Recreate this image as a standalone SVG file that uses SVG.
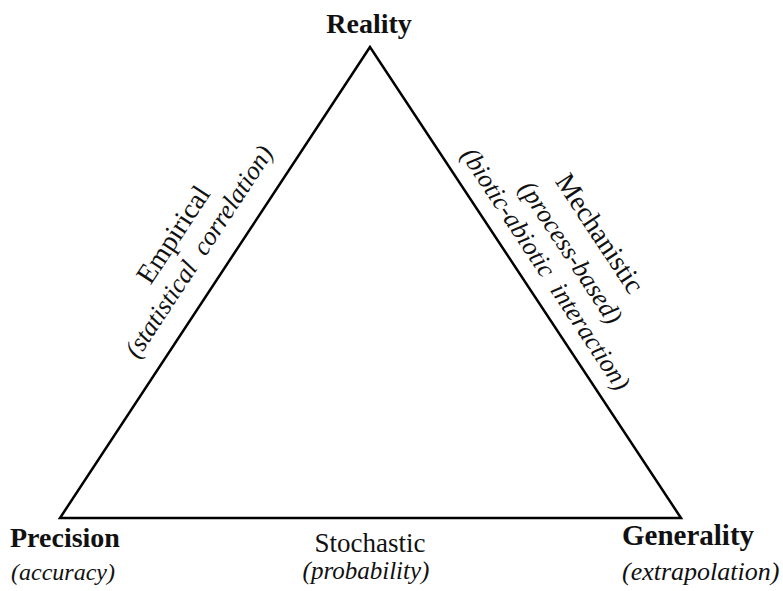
<svg xmlns="http://www.w3.org/2000/svg" width="783" height="591" viewBox="0 0 783 591">
<style>
.edge{fill:none;stroke:#000;stroke-width:2.5;stroke-linejoin:miter;stroke-miterlimit:20}
.b{font-family:"Liberation Serif",serif;font-weight:bold;fill:#111}
.r{font-family:"Liberation Serif",serif;fill:#111}
.i{font-family:"Liberation Serif",serif;font-style:italic;fill:#111}
</style>
<rect width="783" height="591" fill="#fff"/>
<g id="connectors">
<polygon class="edge" points="370,47 60,518 681,518"/>
</g>
<g id="edge-labels">
<g id="label-empirical" transform="translate(224.3,268.3) rotate(-56.65)">
<text class="r" x="0" y="-52" font-size="28" text-anchor="middle">Empirical</text>
<text class="i" x="0" y="-22" font-size="26" text-anchor="middle" xml:space="preserve">(statistical  correlation)</text>
</g>
<g id="label-mechanistic" transform="translate(525.4,282.5) rotate(56.56)">
<text class="r" x="0" y="-80" font-size="28" text-anchor="middle">Mechanistic</text>
<text class="i" x="0" y="-46" font-size="26" text-anchor="middle">(process-based)</text>
<text class="i" x="0" y="-16" font-size="26" text-anchor="middle" xml:space="preserve">(biotic-abiotic  interaction)</text>
</g>
<g id="label-stochastic">
<text class="r" x="370" y="552" font-size="27" text-anchor="middle">Stochastic</text>
<text class="i" x="366" y="579" font-size="25" text-anchor="middle">(probability)</text>
</g>
</g>
<g id="node-reality">
<text class="b" x="369" y="33" font-size="28" text-anchor="middle">Reality</text>
</g>
<g id="node-precision">
<text class="b" x="10" y="547" font-size="28">Precision</text>
<text class="i" x="11" y="580" font-size="24">(accuracy)</text>
</g>
<g id="node-generality">
<text class="b" x="622" y="545" font-size="29">Generality</text>
<text class="i" x="622" y="580" font-size="26">(extrapolation)</text>
</g>
</svg>
